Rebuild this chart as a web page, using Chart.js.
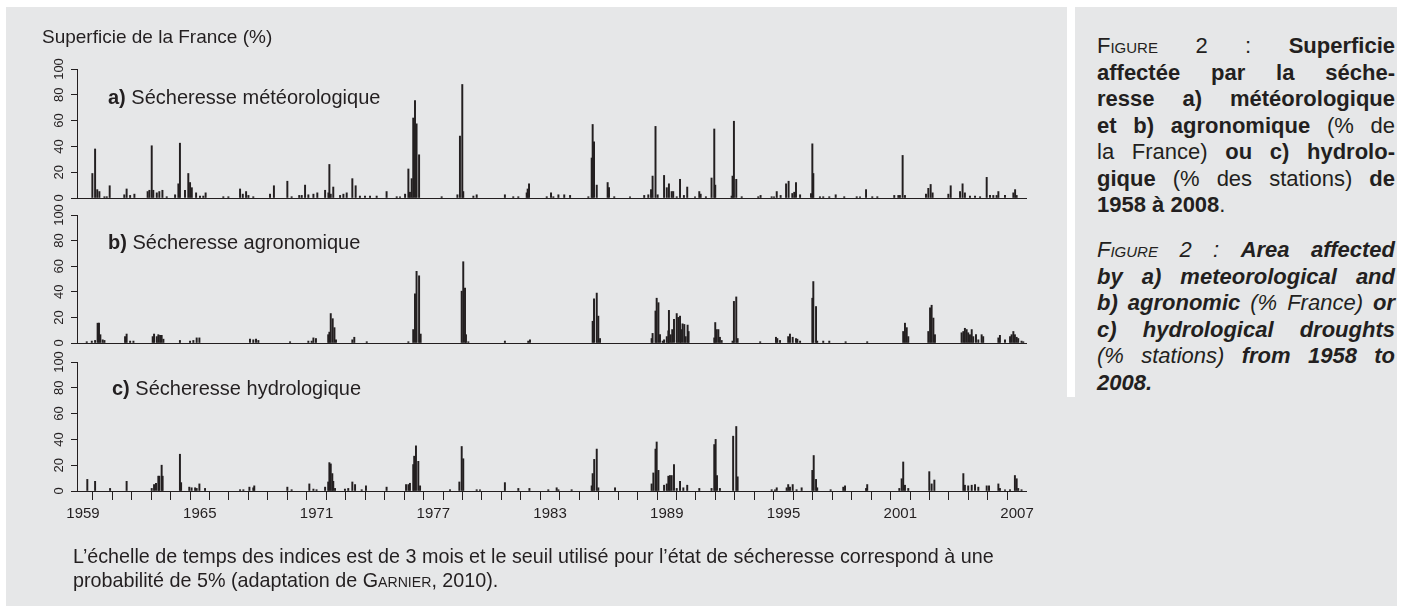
<!DOCTYPE html>
<html>
<head>
<meta charset="utf-8">
<title>Superficie affectée par la sécheresse</title>
<script src="https://cdn.jsdelivr.net/npm/chart.js@4.4.1/dist/chart.umd.min.js"></script>
<style>
  body { margin: 0; width: 1402px; height: 613px; position: relative; overflow: hidden; background: #fff;
         font-family: "Liberation Sans", Arial, Helvetica, sans-serif; color: #231f20; }
  #box { position: absolute; left: 6px; top: 7px; width: 1391px; height: 599px; background: #e6e7e8; }
  #sep { position: absolute; left: 1067px; top: 7px; width: 8px; height: 390px; background: #fff; }
  canvas { position: absolute; left: 0; top: 0; }
  .t { position: absolute; white-space: nowrap; line-height: 1; }
  .ptitle { font-size: 20px; }
  #side { position: absolute; left: 1097px; width: 298px; font-size: 22px; line-height: 26.5px; }
  #side div { text-align: justify; text-align-last: justify; }
  #side div.last { text-align-last: left; }
  .sc { font-variant: small-caps; }
  #caption { position: absolute; left: 73px; top: 544px; font-size: 21px; line-height: 24px; white-space: nowrap;
             transform: scaleX(0.94); transform-origin: left top; }
</style>
</head>
<body>
<div id="box"></div>
<div id="sep"></div>

<canvas id="panelA" width="1040" height="613"></canvas>
<canvas id="panelB" width="1040" height="613"></canvas>
<canvas id="panelC" width="1040" height="613"></canvas>

<div class="t" style="left:42px; top:27px; font-size:19px;">Superficie de la France (%)</div>
<div class="t ptitle" style="left:108px; top:87px;"><b>a)</b> Sécheresse météorologique</div>
<div class="t ptitle" style="left:108px; top:232px;"><b>b)</b> Sécheresse agronomique</div>
<div class="t ptitle" style="left:112px; top:378px;"><b>c)</b> Sécheresse hydrologique</div>

<div id="caption">L’échelle de temps des indices est de 3 mois et le seuil utilisé pour l’état de sécheresse correspond à une<br>probabilité de 5% (adaptation de <span class="sc">Garnier</span>, 2010).</div>

<div id="side" style="top:33px;">
  <div><span class="sc">Figure</span> 2 : <b>Superficie</b></div>
  <div><b>affectée par la séche-</b></div>
  <div><b>resse a) météorologique</b></div>
  <div><b>et b) agronomique</b> (% de</div>
  <div>la France) <b>ou c) hydrolo-</b></div>
  <div><b>gique</b> (% des stations) <b>de</b></div>
  <div class="last"><b>1958 à 2008</b>.</div>
</div>
<div id="side" style="top:237px; font-style:italic;">
  <div><span class="sc">Figure</span> 2 : <b>Area affected</b></div>
  <div><b>by a) meteorological and</b></div>
  <div><b>b) agronomic</b> (% France) <b>or</b></div>
  <div><b>c) hydrological droughts</b></div>
  <div>(% stations) <b>from 1958 to</b></div>
  <div class="last"><b>2008.</b></div>
</div>

<script>
// x axis in decimal years, one tick per year, a label every 6 years
const xMin = 1958.69;
const xMax = 2007.46;
const firstYear = 1959;
const labelStep = 6;
const yTicks = [0, 20, 40, 60, 80, 100];

// [decimal year, % affected] (months with ~0 left out)
const meteo = [
  [1959.48,19],[1959.62,38],[1959.73,6.5],[1959.84,5],[1960.10,1],[1960.22,1],[1960.37,9.5],
  [1961.12,2.5],[1961.24,7],[1961.42,2],[1961.64,3],
  [1962.32,5],[1962.41,6],[1962.53,40.5],[1962.61,6],[1962.79,4],[1962.92,5],[1963.08,6],[1963.30,1],
  [1963.73,2.5],[1963.90,11],[1963.98,42.5],
  [1964.24,6],[1964.41,19],[1964.50,12],[1964.59,8],[1964.81,4],[1965.01,1.5],[1965.18,1.5],[1965.30,4],
  [1966.21,1],[1966.47,1],
  [1967.07,7],[1967.21,3],[1967.38,5],[1967.50,2],[1967.75,1],
  [1968.61,3],[1968.81,9.5],[1969.50,13],[1969.72,1],
  [1970.11,2],[1970.24,2],[1970.41,10],[1970.58,2.5],[1970.84,3],[1971.04,4],
  [1971.44,6],[1971.61,4],[1971.66,26],[1971.73,3],[1971.86,8.5],
  [1972.21,2],[1972.38,3],[1972.55,4],[1972.84,15],[1973.01,9.5],
  [1973.23,1.5],[1973.49,1.5],[1973.75,1.5],[1974.09,1.5],[1974.60,5],[1975.12,1],[1975.29,1],
  [1975.55,3],[1975.72,22.5],[1975.80,4.5],[1975.89,15],[1975.97,62],[1976.06,75.5],[1976.14,57.5],[1976.27,33.5],
  [1977.43,1],[1978.24,2.5],[1978.37,48],[1978.49,88],[1978.54,5],
  [1979.06,1.5],[1979.23,2.5],[1980.68,2.5],[1981.11,1],[1981.37,1],
  [1981.80,4],[1981.85,7],[1981.92,11],
  [1982.83,1],[1983.05,4],[1983.17,1],[1983.43,2.5],[1983.73,2.5],[1984.03,2],
  [1984.97,1],[1985.14,31],[1985.19,57],[1985.26,43.5],[1985.40,10],[1985.96,12],[1986.03,8],
  [1986.30,1],[1987.11,1],
  [1987.84,2],[1988.05,2.5],[1988.19,6.5],[1988.27,17],[1988.42,55.5],[1988.53,2.5],
  [1988.86,17.5],[1989.00,8],[1989.11,11],[1989.25,5],[1989.33,5],[1989.51,1],[1989.68,14.5],[1989.88,2],[1990.05,8.5],
  [1990.45,1],[1990.67,5],[1990.74,3],[1991.01,1],
  [1991.30,15.5],[1991.44,53.5],[1991.49,10],
  [1992.33,1.5],[1992.38,17],[1992.45,59.5],[1992.57,14.5],[1992.85,1],
  [1993.70,1],[1993.82,2],[1994.39,1],[1994.51,1],[1994.65,5],[1994.85,2],
  [1995.13,11],[1995.26,13],[1995.45,3.5],[1995.55,4.5],[1995.64,12],[1995.85,2.5],
  [1996.41,3.5],[1996.48,42],[1996.53,19],
  [1996.87,1],[1997.04,1],[1997.35,1],[1997.68,2.5],[1998.12,1],
  [1998.76,1],[1998.93,1],[1999.24,6.5],[1999.56,1],[1999.82,1],[2000.69,2],[2000.90,2],
  [2000.98,2],[2001.12,33],[2001.24,2],
  [2002.32,3],[2002.44,7.5],[2002.56,10.5],[2002.66,4],[2003.47,3],[2003.59,9.5],
  [2004.07,5],[2004.20,11],[2004.32,4],[2004.58,1.5],[2004.84,1.5],[2005.10,1],
  [2005.44,16],[2005.61,2],[2005.78,2],[2005.95,2],[2006.04,5],[2006.38,2],
  [2006.81,4],[2006.90,6.5],[2006.98,2]
];

const agro = [
  [1959.19,1],[1959.45,1.5],[1959.62,2],[1959.75,15.5],[1959.82,15.5],[1959.89,6.5],[1960.01,2.5],[1960.10,2],
  [1961.16,5],[1961.24,7],[1961.42,1.5],[1961.59,1.5],
  [1962.58,5],[1962.65,7],[1962.79,5],[1962.87,6.5],[1962.96,6],[1963.04,6],[1963.13,3],
  [1963.98,2],[1964.50,1.5],[1964.67,2],[1964.84,4],[1964.98,4],
  [1967.58,3],[1967.75,2.5],[1967.89,3],[1968.01,2],
  [1969.64,1],[1970.58,1.5],[1970.75,1.5],[1970.84,4],[1970.97,3.5],
  [1971.60,6.5],[1971.66,8.5],[1971.73,23],[1971.83,19],[1971.92,12],[1972.00,2.5],
  [1972.84,2.5],[1972.94,4.5],[1973.58,1],
  [1975.72,1],[1975.97,10.5],[1976.06,38.5],[1976.14,56],[1976.27,52.5],[1976.35,7],
  [1978.46,40.5],[1978.54,63.5],[1978.63,43],[1978.68,6.5],[1978.80,1],
  [1980.68,1.5],[1981.88,1.5],[1981.97,2.5],
  [1985.19,17],[1985.26,34.5],[1985.40,39],[1985.48,21],[1985.57,3.5],
  [1988.22,3.5],[1988.27,7.5],[1988.42,25],[1988.48,35],[1988.57,31.5],[1988.65,6.5],[1988.79,1.5],[1988.86,2.5],
  [1989.00,5],[1989.08,9.5],[1989.11,25.5],[1989.20,6.5],[1989.28,10.5],[1989.37,18.5],[1989.51,23],
  [1989.59,20],[1989.68,21],[1989.73,10.5],[1989.81,15],[1989.90,14.5],[1989.97,5],[1990.07,14],[1990.12,9],
  [1991.44,4],[1991.49,16],[1991.56,10.5],[1991.65,10.5],[1991.73,4.5],[1991.82,2],
  [1992.38,1.5],[1992.45,32.5],[1992.57,36],[1992.64,3.5],
  [1993.80,1],[1994.61,4.5],[1994.68,3.5],[1994.82,2],
  [1995.24,5],[1995.33,7],[1995.47,4.5],[1995.64,3.5],[1995.71,3],[1995.85,1.5],
  [1996.48,35],[1996.53,48],[1996.67,28.5],[1996.73,1.5],
  [1997.04,1.5],[1997.35,1.5],[1998.19,1],[1999.30,1],
  [2001.15,9],[2001.24,15.5],[2001.33,12],[2001.41,5],
  [2002.44,9],[2002.53,27.5],[2002.61,29.5],[2002.70,19.5],[2002.78,6.5],
  [2004.15,8],[2004.24,9],[2004.32,11.5],[2004.41,10.5],[2004.49,8],[2004.58,6.5],[2004.67,10.5],
  [2004.75,5],[2004.89,6.5],[2005.01,2.5],[2005.18,6.5],[2005.26,5],
  [2006.04,4],[2006.12,6],[2006.38,2.5],
  [2006.64,5],[2006.72,6.5],[2006.81,9],[2006.89,6.5],[2006.98,4.5],[2007.06,3.5],[2007.23,1.5],[2007.32,1]
];

const hydro = [
  [1959.22,9],[1959.62,7.5],[1960.39,2],[1961.24,7.5],
  [1962.53,2],[1962.65,5],[1962.75,6],[1962.87,11.5],[1962.92,11.5],[1963.04,20],[1963.09,11.5],
  [1963.98,28.5],[1964.04,6.5],
  [1964.46,3],[1964.58,2.5],[1964.76,2.5],[1964.84,2],[1964.98,5.5],[1965.27,2],
  [1967.07,1],[1967.24,1],[1967.55,3],[1967.75,2.5],[1967.80,4],
  [1969.50,3],[1969.72,1],[1970.63,5.5],[1970.84,1.5],[1971.00,1],
  [1971.44,3],[1971.60,7],[1971.66,22],[1971.73,21],[1971.81,13.5],[1971.86,7.5],[1971.95,2],
  [1972.46,1.5],[1972.63,2],[1972.84,7],[1972.98,5],[1973.32,1],[1973.54,4],[1974.60,3],
  [1975.60,5],[1975.72,5],[1975.80,6],[1975.97,20.5],[1976.02,27],[1976.11,35],[1976.23,23],[1976.32,4],
  [1977.86,1],[1978.34,7],[1978.46,34.5],[1978.54,25],
  [1979.23,1],[1979.40,1],[1980.68,6.5],[1981.37,2],[1981.94,2],
  [1982.91,1],[1983.34,2.5],[1983.43,1],[1984.11,1],
  [1985.14,4],[1985.19,13.5],[1985.27,24.5],[1985.40,32.5],[1985.48,2.5],[1986.34,2.5],
  [1988.22,5.5],[1988.31,14],[1988.42,32.5],[1988.48,38],[1988.57,16],
  [1988.86,4.5],[1989.00,5.5],[1989.08,11.5],[1989.16,12],[1989.25,12],[1989.37,20.5],[1989.51,2],
  [1989.68,7.5],[1989.85,2.5],[1990.05,4.5],[1990.67,2],
  [1991.30,2],[1991.44,36],[1991.51,40],[1991.58,12],[1991.73,2],
  [1992.41,42.5],[1992.57,50],[1992.64,11],
  [1994.39,1],[1994.56,1],[1994.65,2.5],
  [1995.16,2.5],[1995.24,5],[1995.33,3],[1995.47,5],[1995.67,1],[1995.93,2.5],
  [1996.48,16],[1996.55,27.5],[1996.67,9],[1996.73,2.5],
  [1997.42,1],[1998.07,3],[1998.16,4],[1999.24,2],[1999.30,5],[2000.95,2],
  [2001.07,9.5],[2001.15,22.5],[2001.24,4.5],[2001.41,2],
  [2002.49,15],[2002.61,5.5],[2002.75,8.5],
  [2004.24,13.5],[2004.32,4.5],[2004.49,4],[2004.67,4.5],[2004.84,5],[2005.01,3],
  [2005.44,4],[2005.56,4],[2006.04,5.5],[2006.12,2],[2006.38,1],[2006.64,1],
  [2006.89,12],[2006.98,9.5],[2007.06,2],[2007.23,1]
];

const ink = '#231f20';
const tickFont = '"Liberation Sans", Arial, sans-serif';
const pageH = 613;

function makePanel(id, series, top, bottom, withYears) {
  const xh = withYears ? 40 : 0;
  return new Chart(document.getElementById(id), {
    type: 'bar',
    data: {
      datasets: [{
        data: series.map(p => ({ x: p[0], y: p[1] })),
        backgroundColor: ink,
        barThickness: 1.3
      }]
    },
    options: {
      responsive: false,
      animation: false,
      devicePixelRatio: 1,
      layout: { padding: { left: 0, right: 14, top: top, bottom: pageH - bottom - xh } },
      plugins: { legend: { display: false }, tooltip: { enabled: false } },
      scales: {
        x: {
          type: 'linear',
          min: xMin,
          max: xMax,
          offset: false,
          afterFit: s => { s.height = xh; },
          border: { display: true, color: ink, width: 1 },
          grid: { display: withYears, drawOnChartArea: false, drawTicks: withYears, tickLength: 9, color: ink },
          ticks: {
            display: withYears,
            stepSize: 1,
            autoSkip: false,
            maxRotation: 0,
            includeBounds: false,
            padding: 5,
            color: ink,
            font: { family: tickFont, size: 15 },
            callback: v => ((Math.round(v) - firstYear) % labelStep === 0 ? String(Math.round(v)) : '')
          }
        },
        y: {
          min: yTicks[0],
          max: yTicks[yTicks.length - 1],
          afterFit: s => { s.width = 77; },
          border: { display: true, color: ink, width: 1 },
          grid: { drawOnChartArea: false, drawTicks: true, tickLength: 6, color: ink },
          ticks: {
            stepSize: yTicks[1] - yTicks[0],
            autoSkip: false,
            minRotation: 90,
            maxRotation: 90,
            crossAlign: 'center',
            padding: 1,
            color: ink,
            font: { family: tickFont, size: 13 }
          }
        }
      }
    }
  });
}

makePanel('panelA', meteo, 69, 198, false);
makePanel('panelB', agro, 215, 343, false);
makePanel('panelC', hydro, 362, 491, true);
</script>
</body>
</html>
